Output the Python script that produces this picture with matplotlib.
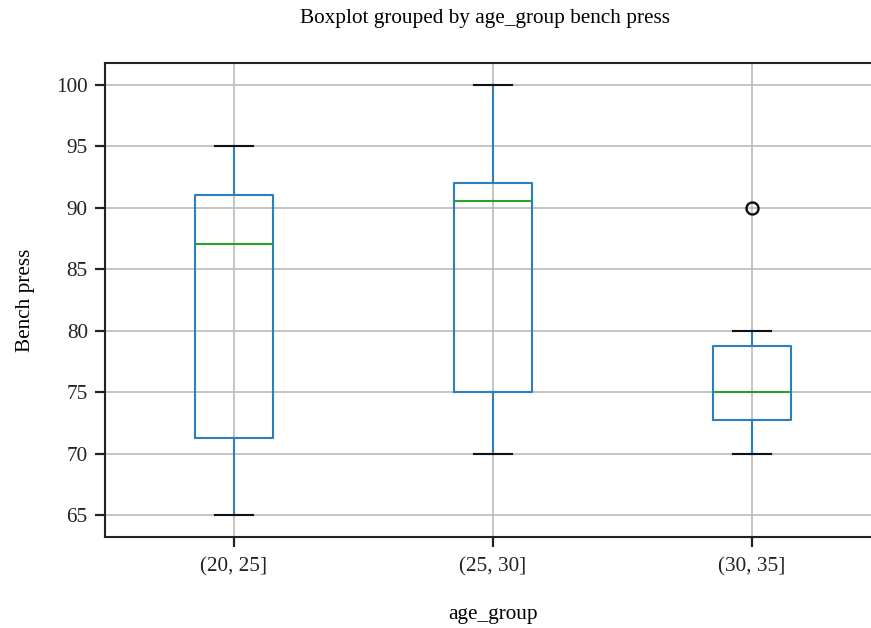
import matplotlib
matplotlib.use("Agg")
import matplotlib.pyplot as plt

# Bench press results (kg) per age bracket
age_groups = ["(20, 25]", "(25, 30]", "(30, 35]"]
bench_20_25 = [65, 69, 72, 85, 89, 90, 94, 95]
bench_25_30 = [70, 75, 75, 90, 91, 92, 92, 100]
bench_30_35 = [70, 72, 75, 75, 80, 90]

FS = 15.3
plt.rcParams["font.family"] = ["Liberation Serif", "DejaVu Serif"]
plt.rcParams["font.size"] = FS

S = 1.44  # line scale
fig = plt.figure(figsize=(8.71, 6.28), dpi=100)
ax = fig.add_axes([104.5 / 871, 91.3 / 628, 777 / 871, 473.7 / 628])

ax.boxplot(
    [bench_20_25, bench_25_30, bench_30_35],
    tick_labels=age_groups,
    boxprops=dict(color="#2a7fc0", linewidth=1.05 * S),
    whiskerprops=dict(color="#2a7fc0", linewidth=1.05 * S),
    medianprops=dict(color="#2ca02c", linewidth=1.05 * S),
    capprops=dict(color="#111111", linewidth=1.05 * S),
    flierprops=dict(marker="o", markerfacecolor="none", markeredgecolor="#111111",
                    markersize=6 * S, markeredgewidth=1.2 * S),
)

ax.grid(True, color="#b8b8b8", linewidth=0.8 * S)
ax.set_axisbelow(True)
for sp in ax.spines.values():
    sp.set_linewidth(1.05 * S)
    sp.set_color("#222222")
ax.tick_params(length=7, width=1.1 * S, colors="#222222", labelsize=FS)
ax.tick_params(axis="y", pad=5)
ax.tick_params(axis="x", pad=8)

ax.set_xlabel("age_group", labelpad=20)
ax.set_ylabel("Bench press", labelpad=15)
fig.text(485 / 871, 1 - 19 / 628, "Boxplot grouped by age_group bench press",
         ha="center", va="center", fontsize=FS)

fig.savefig("out.png", dpi=100)
